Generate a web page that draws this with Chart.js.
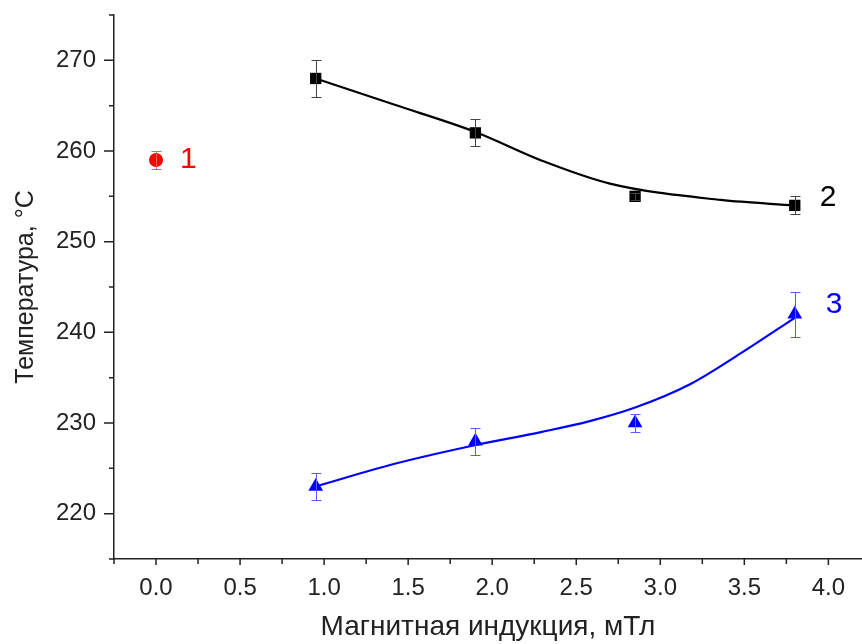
<!DOCTYPE html>
<html><head><meta charset="utf-8">
<script src="https://cdn.jsdelivr.net/npm/chart.js@4.4.1/dist/chart.umd.min.js"></script>
<style>html,body{margin:0;padding:0;background:#fff}#wrap{width:862px;height:644px}</style>
</head><body><div id="wrap"><canvas id="c" width="862" height="644"></canvas></div>
<script>
// Data
const xTitle = "Магнитная индукция, мТл";
const yTitle = "Температура, °C";
const s1X = [0.0], s1Y = [259], s1Err = [1];
const s2X = [0.95, 1.9, 2.85, 3.8], s2Y = [268, 262, 255, 254], s2Err = [2, 1.5, 0.4, 1];
const s3X = [0.95, 1.9, 2.85, 3.8], s3Y = [223, 228, 230, 242], s3Err = [1.5, 1.5, 1, 2.5];
// smooth fitted curves
const c2X = [0.95, 1.42, 1.9, 2.3, 2.7, 3.36, 3.8], c2Y = [268, 265.1, 262.1, 258.9, 256.4, 254.6, 254];
const c3X = [0.95, 1.42, 1.91, 2.29, 2.58, 2.85, 3.18, 3.48, 3.8], c3Y = [223, 225.5, 227.6, 229.0, 230.2, 231.7, 234.3, 237.7, 241.6];
const labels = ["1", "2", "3"];

const pts = (xs, ys) => xs.map((x, i) => ({x, y: ys[i]}));
const FONT = "'Liberation Sans', Arial, sans-serif";

const errPlugin = {
  id: 'err',
  afterDatasetsDraw(chart) {
    const {ctx, scales: {x, y}} = chart;
    const sets = [[s1X, s1Y, s1Err, '#ff5a5a'], [s2X, s2Y, s2Err, '#444'], [s3X, s3Y, s3Err, '#5a5aff']];
    ctx.save();
    ctx.lineWidth = 1;
    sets.forEach(([xs, ys, es, col]) => {
      ctx.strokeStyle = col;
      xs.forEach((xv, i) => {
        const px = Math.round(x.getPixelForValue(xv)) + 0.5;
        const yt = Math.round(y.getPixelForValue(ys[i] + es[i])) + 0.5;
        const yb = Math.round(y.getPixelForValue(ys[i] - es[i])) + 0.5;
        ctx.beginPath();
        ctx.moveTo(px, yt); ctx.lineTo(px, yb);
        ctx.moveTo(px - 5, yt); ctx.lineTo(px + 5, yt);
        ctx.moveTo(px - 5, yb); ctx.lineTo(px + 5, yb);
        ctx.stroke();
      });
    });
    // curve labels
    ctx.font = "30px " + FONT;
    ctx.textBaseline = 'middle';
    ctx.textAlign = 'left';
    const lab = [[s1X[0], s1Y[0], 24, 0, '#ff0000'], [s2X[3], s2Y[3], 25, -8, '#000'], [s3X[3], s3Y[3], 31, -9, '#0000ff']];
    lab.forEach(([xv, yv, dx, dy, col], i) => {
      ctx.fillStyle = col;
      ctx.fillText(labels[i], x.getPixelForValue(xv) + dx, y.getPixelForValue(yv) + dy);
    });
    ctx.restore();
  }
};

const tickPlugin = {
  id: 'ticks',
  afterDraw(chart) {
    const {ctx, scales: {x, y}, chartArea: a} = chart;
    ctx.save();
    ctx.strokeStyle = '#222';
    ctx.lineWidth = 1.5;
    ctx.beginPath();
    x.ticks.forEach(t => {
      const px = x.getPixelForValue(t.value);
      const major = Math.abs(t.value / 0.5 - Math.round(t.value / 0.5)) < 1e-6;
      ctx.moveTo(px, a.bottom); ctx.lineTo(px, a.bottom + (major ? 6 : 5));
    });
    y.ticks.forEach(t => {
      const py = y.getPixelForValue(t.value);
      const major = t.value % 10 === 0;
      ctx.moveTo(a.left, py); ctx.lineTo(a.left - (major ? 10 : 5), py);
    });
    ctx.stroke();
    ctx.restore();
  }
};

new Chart(document.getElementById('c'), {
  type: 'scatter',
  data: {
    datasets: [
      {data: pts(c2X, c2Y), showLine: true, borderColor: '#000', borderWidth: 2.2, pointRadius: 0, cubicInterpolationMode: 'monotone', fill: false},
      {data: pts(c3X, c3Y), showLine: true, borderColor: '#0000ff', borderWidth: 2.2, pointRadius: 0, cubicInterpolationMode: 'monotone', fill: false},
      {data: pts(s1X, s1Y), pointStyle: 'circle', pointRadius: 7, backgroundColor: '#ff0000', borderColor: '#ff0000', borderWidth: 0},
      {data: pts(s2X, s2Y), pointStyle: 'rect', pointRadius: 8, backgroundColor: '#000', borderColor: '#000', borderWidth: 0},
      {data: pts(s3X, s3Y), pointStyle: 'triangle', pointRadius: 8.5, backgroundColor: '#0000ff', borderColor: '#0000ff', borderWidth: 0}
    ]
  },
  options: {
    responsive: false,
    animation: false,
    layout: {autoPadding: false, padding: {top: 15, right: 0, left: 0, bottom: 0}},
    plugins: {legend: {display: false}, tooltip: {enabled: false}},
    scales: {
      x: {
        type: 'linear', min: -0.25, max: 4.2,
        afterFit(s) { s.height = 85; s.paddingLeft = 0; s.paddingRight = 0; },
        grid: {display: true, drawOnChartArea: false, drawTicks: false},
        border: {display: true, color: '#222', width: 1.5},
        ticks: {
          stepSize: 0.25, includeBounds: false, autoSkip: false, maxRotation: 0, padding: 15,
          color: '#222', font: {family: FONT, size: 24},
          callback: v => (Math.abs(v / 0.5 - Math.round(v / 0.5)) < 1e-6 && v >= 0) ? v.toFixed(1) : ''
        },
        title: {display: true, text: xTitle, color: '#222', font: {family: FONT, size: 28}, padding: {top: 1, bottom: 0}}
      },
      y: {
        type: 'linear', min: 215, max: 275,
        afterFit(s) { s.width = 114; s.paddingTop = 0; s.paddingBottom = 0; },
        grid: {display: true, drawOnChartArea: false, drawTicks: false},
        border: {display: true, color: '#222', width: 1.5},
        ticks: {
          stepSize: 5, includeBounds: false, autoSkip: false, padding: 18,
          color: '#222', font: {family: FONT, size: 24},
          callback: v => (v % 10 === 0 && v >= 220 && v <= 270) ? String(v) : ''
        },
        title: {display: true, text: yTitle, color: '#222', font: {family: FONT, size: 25}, padding: {top: 11, bottom: 0}}
      }
    }
  },
  plugins: [errPlugin, tickPlugin]
});
</script>
</body></html>
